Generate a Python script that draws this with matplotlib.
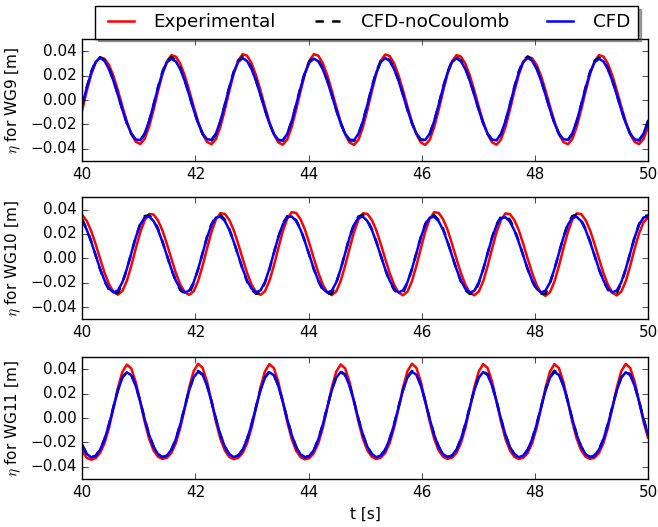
import numpy as np
import matplotlib
matplotlib.use("Agg")
import matplotlib.pyplot as plt

plt.style.use("classic")
plt.rcParams.update({
    "figure.facecolor": "white",
    "savefig.facecolor": "white",
    "font.size": 11,
    "legend.fontsize": 13.2,
    "mathtext.fontset": "cm",
})

# ---------------- data (wave elevation, mm) ----------------
time_s = np.linspace(40.0, 50.0, 128)

wg9_exp = [
    [-7.8, 7.5, 21.0, 31.0, 35.2, 34.0, 28.8, 19.8, 8.0, -5.1, -17.6, -27.7, -34.2, -36.0, -31.8, -21.8],
    [-7.9, 7.4, 21.6, 32.0, 37.0, 35.8, 29.9, 20.2, 8.0, -5.2, -17.6, -27.8, -34.3, -36.2, -32.0, -21.9],
    [-8.0, 7.4, 21.8, 32.6, 37.8, 36.5, 30.3, 20.4, 8.0, -5.3, -17.8, -28.1, -34.7, -36.6, -32.3, -22.1],
    [-8.0, 7.4, 21.8, 32.6, 37.8, 36.5, 30.3, 20.4, 8.0, -5.3, -17.8, -28.1, -34.8, -36.8, -32.5, -22.2],
    [-8.1, 7.3, 21.7, 32.3, 37.5, 36.3, 30.2, 20.3, 8.0, -5.3, -17.8, -28.1, -34.8, -36.8, -32.5, -22.2],
    [-8.1, 7.3, 21.6, 32.0, 37.0, 35.8, 29.9, 20.2, 8.0, -5.3, -17.8, -28.1, -34.7, -36.6, -32.3, -22.1],
    [-8.0, 7.3, 21.0, 31.2, 35.6, 34.4, 29.0, 19.8, 7.9, -5.2, -17.7, -27.9, -34.4, -36.2, -32.0, -21.9],
    [-7.9, 7.4, 21.6, 32.0, 37.0, 35.8, 29.9, 20.2, 8.0, -5.2, -17.6, -27.8, -34.3, -36.1, -31.9, -21.8],
]
wg9_nocoul = [
    [-3.7, 10.7, 23.4, 32.0, 35.2, 32.8, 26.2, 16.4, 4.6, -7.8, -19.0, -27.7, -32.6, -33.1, -27.8, -17.3],
    [-3.6, 10.8, 23.5, 32.2, 35.3, 32.9, 26.3, 16.4, 4.5, -7.9, -19.1, -27.8, -32.8, -33.3, -27.9, -17.4],
    [-3.7, 10.8, 23.6, 32.4, 35.8, 33.2, 26.4, 16.5, 4.6, -7.8, -19.0, -27.7, -32.7, -33.2, -27.9, -17.4],
    [-3.7, 10.7, 23.4, 32.0, 35.1, 32.7, 26.1, 16.3, 4.5, -7.9, -19.1, -27.8, -32.9, -33.4, -28.0, -17.4],
    [-3.6, 10.8, 23.5, 32.2, 35.4, 32.9, 26.3, 16.4, 4.6, -7.8, -19.0, -27.7, -32.6, -33.1, -27.8, -17.3],
    [-3.7, 10.7, 23.4, 32.1, 35.3, 32.8, 26.2, 16.4, 4.6, -7.8, -19.0, -27.7, -32.7, -33.2, -27.9, -17.4],
    [-3.6, 10.9, 23.7, 32.5, 35.9, 33.3, 26.5, 16.5, 4.6, -7.8, -19.0, -27.7, -32.6, -33.1, -27.8, -17.3],
    [-3.7, 10.7, 23.4, 32.0, 35.0, 32.7, 26.2, 16.4, 4.6, -7.8, -19.0, -27.7, -32.6, -33.1, -27.8, -17.3],
]
wg9_cfd = [
    [-3.9, 10.2, 22.6, 31.4, 34.8, 32.2, 25.4, 15.8, 4.2, -7.9, -18.9, -27.3, -32.3, -32.9, -27.4, -17.2],
    [-3.9, 10.2, 22.6, 31.1, 34.0, 31.8, 25.4, 15.8, 4.2, -7.9, -18.9, -27.3, -32.1, -32.6, -27.4, -17.2],
    [-3.7, 10.4, 22.8, 31.4, 34.5, 32.1, 25.5, 15.8, 4.1, -8.0, -19.1, -27.6, -32.6, -33.2, -27.8, -17.4],
    [-3.9, 10.2, 22.5, 31.0, 34.1, 31.8, 25.3, 15.7, 4.1, -8.0, -19.0, -27.5, -32.4, -32.9, -27.6, -17.3],
    [-3.8, 10.3, 22.7, 31.3, 34.6, 32.2, 25.6, 15.9, 4.2, -7.9, -18.9, -27.3, -32.2, -32.7, -27.5, -17.3],
    [-3.9, 10.2, 22.6, 31.2, 34.3, 31.9, 25.4, 15.8, 4.2, -7.9, -19.0, -27.5, -32.5, -33.0, -27.6, -17.3],
    [-3.8, 10.4, 22.9, 31.6, 34.8, 32.3, 25.6, 15.9, 4.2, -7.9, -18.9, -27.3, -32.1, -32.6, -27.4, -17.2],
    [-3.9, 10.2, 22.6, 31.1, 34.0, 31.8, 25.4, 15.8, 4.2, -7.9, -18.9, -27.3, -32.3, -32.8, -27.5, -17.2],
]

wg10_exp = [
    [35.4, 30.6, 22.4, 11.5, -0.4, -11.9, -21.3, -27.6, -29.8, -26.8, -18.5, -6.1, 8.0, 21.2, 31.2, 36.3],
    [35.9, 31.0, 22.7, 11.7, -0.4, -12.0, -21.5, -27.8, -30.0, -27.0, -18.6, -6.1, 8.1, 21.6, 31.8, 37.0],
    [36.4, 31.4, 23.0, 11.8, -0.4, -12.0, -21.5, -27.8, -30.0, -27.0, -18.6, -6.1, 8.2, 22.0, 32.4, 37.8],
    [37.2, 32.0, 23.3, 11.9, -0.4, -12.0, -21.6, -28.0, -30.2, -27.2, -18.7, -6.1, 8.0, 21.5, 31.7, 36.9],
    [36.4, 31.4, 23.0, 11.8, -0.4, -12.1, -21.7, -28.1, -30.3, -27.3, -18.8, -6.2, 8.2, 22.0, 32.4, 37.8],
    [37.2, 32.0, 23.3, 11.9, -0.4, -12.1, -21.7, -28.1, -30.3, -27.3, -18.8, -6.2, 8.0, 21.4, 31.5, 36.8],
    [36.3, 31.3, 22.9, 11.7, -0.5, -12.2, -21.9, -28.5, -30.8, -27.7, -19.0, -6.3, 8.0, 21.4, 31.5, 36.8],
    [36.3, 31.3, 22.9, 11.7, -0.4, -12.1, -21.7, -28.2, -30.4, -27.3, -18.8, -6.2, 7.9, 20.5, 29.5, 33.5],
]
wg10_nocoul = [
    [31.8, 24.0, 13.9, 2.3, -9.1, -18.9, -25.8, -29.1, -28.4, -20.3, -9.1, 4.3, 17.5, 28.2, 34.6, 35.4],
    [31.4, 24.3, 13.7, 2.5, -9.3, -18.7, -26.1, -28.7, -28.9, -20.6, -9.0, 4.1, 17.7, 28.0, 34.2, 35.6],
    [31.6, 23.8, 14.0, 2.2, -9.0, -19.1, -25.7, -29.2, -28.2, -20.1, -9.3, 4.4, 17.4, 28.3, 34.5, 35.1],
    [31.2, 24.1, 13.8, 2.4, -9.2, -18.8, -26.0, -28.8, -29.0, -20.4, -9.1, 4.2, 17.6, 28.1, 34.3, 35.5],
    [31.5, 23.9, 13.9, 2.3, -9.1, -18.9, -25.9, -29.0, -28.5, -20.2, -9.2, 4.3, 17.5, 28.2, 34.4, 35.3],
    [31.3, 24.2, 13.8, 2.4, -9.3, -19.0, -26.0, -29.3, -28.7, -20.5, -9.0, 4.1, 17.3, 27.9, 34.0, 35.0],
    [31.6, 23.9, 13.9, 2.2, -9.0, -18.8, -25.8, -28.9, -29.1, -20.3, -9.1, 4.3, 17.5, 28.2, 34.6, 35.7],
    [31.4, 24.0, 13.9, 2.3, -9.1, -18.9, -25.8, -28.9, -28.3, -20.3, -9.1, 4.3, 17.5, 28.2, 34.4, 35.2],
]
wg10_cfd = [
    [30.6, 23.4, 13.5, 2.4, -8.7, -18.2, -24.9, -27.9, -26.4, -19.6, -8.7, 4.3, 17.1, 27.5, 33.5, 34.2],
    [30.5, 23.3, 13.4, 2.3, -8.8, -18.3, -25.0, -28.0, -26.5, -19.7, -8.8, 4.2, 17.0, 27.4, 33.4, 34.1],
    [30.6, 23.4, 13.5, 2.4, -8.7, -18.2, -24.9, -27.8, -26.3, -19.5, -8.6, 4.4, 17.2, 27.6, 33.6, 34.3],
    [30.6, 23.4, 13.4, 2.3, -8.8, -18.3, -25.0, -28.0, -26.6, -19.8, -8.9, 4.2, 17.0, 27.4, 33.4, 34.1],
    [30.5, 23.3, 13.4, 2.3, -8.8, -18.2, -24.9, -27.9, -26.4, -19.6, -8.7, 4.3, 17.1, 27.4, 33.3, 34.0],
    [30.4, 23.2, 13.3, 2.3, -8.8, -18.3, -25.0, -28.1, -26.7, -19.9, -9.0, 4.1, 16.8, 27.1, 33.0, 33.6],
    [30.0, 22.9, 13.1, 2.1, -8.9, -18.3, -25.0, -28.0, -26.5, -19.7, -8.8, 4.2, 17.0, 27.3, 33.3, 34.0],
    [30.4, 23.2, 13.3, 2.3, -8.8, -18.2, -24.9, -27.9, -26.4, -19.6, -8.7, 4.3, 17.1, 27.5, 33.5, 34.2],
]

wg11_exp = [
    [-27.0, -32.6, -34.2, -32.8, -28.6, -20.5, -7.9, 8.3, 25.0, 38.1, 44.0, 40.8, 29.6, 13.8, -3.0, -17.0],
    [-26.5, -31.7, -33.5, -32.5, -28.6, -20.5, -7.9, 8.3, 25.2, 38.6, 44.7, 41.4, 30.0, 13.8, -3.0, -17.0],
    [-26.6, -31.9, -33.7, -32.6, -28.6, -20.5, -7.9, 8.3, 25.1, 38.4, 44.4, 41.2, 29.9, 13.8, -3.0, -17.0],
    [-26.7, -32.0, -33.9, -32.8, -28.7, -20.5, -7.9, 8.3, 25.0, 38.2, 44.1, 40.9, 29.7, 13.8, -3.0, -17.0],
    [-26.5, -31.8, -33.6, -32.5, -28.6, -20.5, -7.9, 8.3, 25.2, 38.6, 44.7, 41.4, 30.0, 13.8, -3.0, -17.0],
    [-26.5, -31.7, -33.5, -32.5, -28.6, -20.5, -7.9, 8.3, 25.1, 38.4, 44.4, 41.2, 29.9, 13.8, -3.0, -17.0],
    [-26.6, -31.8, -33.6, -32.5, -28.6, -20.5, -7.9, 8.3, 25.1, 38.4, 44.4, 41.2, 29.9, 13.8, -3.0, -17.0],
    [-26.5, -31.7, -33.5, -32.5, -28.6, -20.5, -7.9, 8.3, 25.2, 38.6, 44.6, 41.3, 29.9, 13.8, -3.0, -16.0],
]
wg11_nocoul = [
    [-22.3, -29.2, -32.1, -30.9, -26.0, -17.0, -4.9, 9.4, 23.1, 33.6, 38.2, 35.7, 26.8, 13.9, -0.5, -13.5],
    [-23.3, -29.5, -32.0, -30.8, -26.0, -17.0, -4.9, 9.4, 23.3, 34.0, 38.8, 36.2, 27.1, 13.9, -0.5, -13.5],
    [-23.4, -29.6, -32.1, -30.8, -26.0, -17.0, -4.9, 9.4, 23.2, 33.8, 38.5, 36.0, 27.0, 13.9, -0.5, -13.5],
    [-23.4, -29.7, -32.2, -30.9, -26.1, -17.1, -4.9, 9.4, 23.2, 33.7, 38.3, 35.8, 26.9, 13.9, -0.5, -13.5],
    [-23.3, -29.5, -32.0, -30.8, -26.0, -17.0, -4.9, 9.4, 23.3, 34.0, 38.8, 36.2, 27.1, 13.9, -0.5, -13.5],
    [-23.3, -29.5, -32.0, -30.8, -26.0, -17.0, -4.9, 9.4, 23.2, 33.8, 38.5, 36.0, 27.0, 13.9, -0.5, -13.5],
    [-23.4, -29.6, -32.1, -30.8, -26.0, -17.0, -4.9, 9.4, 23.3, 34.1, 39.0, 36.4, 27.2, 13.9, -0.5, -13.5],
    [-23.3, -29.5, -32.0, -30.8, -26.0, -17.0, -4.9, 9.4, 23.2, 33.8, 38.5, 36.0, 27.0, 13.9, -0.5, -13.5],
]
wg11_cfd = [
    [-22.0, -29.3, -32.2, -30.9, -25.9, -17.2, -5.2, 9.0, 22.8, 33.3, 37.7, 35.3, 26.5, 13.6, -0.8, -13.7],
    [-23.5, -29.6, -32.0, -30.7, -25.9, -17.2, -5.2, 9.0, 22.9, 33.5, 38.1, 35.7, 26.7, 13.6, -0.8, -13.7],
    [-23.5, -29.6, -32.0, -30.7, -25.9, -17.2, -5.2, 9.0, 22.8, 33.2, 37.7, 35.3, 26.5, 13.6, -0.8, -13.7],
    [-23.6, -29.8, -32.2, -30.9, -26.0, -17.3, -5.2, 9.0, 22.8, 33.3, 37.9, 35.5, 26.6, 13.6, -0.8, -13.7],
    [-23.5, -29.6, -32.0, -30.7, -25.9, -17.2, -5.2, 9.0, 22.9, 33.5, 38.1, 35.7, 26.7, 13.6, -0.8, -13.7],
    [-23.5, -29.6, -32.0, -30.7, -25.9, -17.2, -5.2, 9.0, 22.8, 33.3, 37.9, 35.5, 26.6, 13.6, -0.8, -13.7],
    [-23.6, -29.7, -32.1, -30.8, -25.9, -17.2, -5.2, 9.0, 22.8, 33.3, 37.9, 35.5, 26.6, 13.6, -0.8, -13.7],
    [-23.5, -29.6, -32.0, -30.7, -25.9, -17.2, -5.2, 9.0, 22.8, 33.2, 37.7, 35.4, 26.5, 13.5, -0.9, -13.7],
]

gauges = ["WG9", "WG10", "WG11"]
series_names = ["Experimental", "CFD-noCoulomb", "CFD"]
panel_data = [
    (wg9_exp, wg9_nocoul, wg9_cfd),
    (wg10_exp, wg10_nocoul, wg10_cfd),
    (wg11_exp, wg11_nocoul, wg11_cfd),
]
x_ticks = [40, 42, 44, 46, 48, 50]
y_ticks = [-0.04, -0.02, 0.00, 0.02, 0.04]

# ---------------- figure ----------------
fig = plt.figure(figsize=(6.58, 5.27), dpi=100)
W, H = 658.0, 527.0
ax_left, ax_right = 82.3, 648.0
panel_px = [(39.3, 161.0), (197.3, 319.3), (357.3, 479.0)]

styles = [
    dict(color="r", linestyle="-", lw=1.8),
    dict(color="k", linestyle="--", dashes=(6, 6), lw=1.8),
    dict(color="b", linestyle="-", lw=1.8),
]

handles = []
for (top, bot), gname, data in zip(panel_px, gauges, panel_data):
    ax = fig.add_axes([ax_left / W, 1 - bot / H, (ax_right - ax_left) / W, (bot - top) / H])
    hs = []
    for vals, st, name in zip(data, styles, series_names):
        y = np.asarray(vals, dtype=float).ravel() / 1000.0
        h, = ax.plot(time_s, y, label=name, solid_joinstyle="round", **st)
        hs.append(h)
    handles = hs
    ax.set_xlim(40, 50)
    ax.set_ylim(-0.05, 0.05)
    ax.set_xticks(x_ticks)
    ax.set_yticks(y_ticks)
    ax.set_ylabel(r"$\eta$ for %s [m]" % gname)
last_ax = ax
last_ax.set_xlabel("t [s]")

fig.legend(handles, series_names, loc="upper left",
           bbox_to_anchor=(95 / W, 1 - 6 / H, 543 / W, 0.0),
           ncol=3, mode="expand", borderaxespad=0.0,
           shadow=True, fancybox=False, numpoints=2)

fig.savefig("out.png", dpi=100)
